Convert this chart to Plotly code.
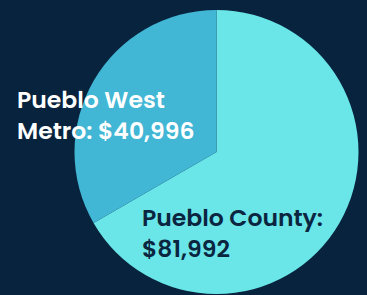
import plotly.graph_objects as go

labels = ["Pueblo County", "Pueblo West Metro"]
values = [81992, 40996]
colors = ["#6ae5e8", "#42b6d5"]
text_colors = ["#0a2540", "#ffffff"]
label_lines = [["Pueblo County:", "${:,}"], ["Pueblo West", "Metro: ${:,}"]]

W, H = 367, 295
bg = "#07233d"

fig = go.Figure(go.Pie(
    labels=labels, values=values, sort=False, direction="clockwise", rotation=0,
    marker=dict(colors=colors, line=dict(width=0)),
    textinfo="none", hoverinfo="label+value", showlegend=False,
    domain=dict(x=[(216.5 - 142) / W, (216.5 + 142) / W], y=[(143 - 142) / H, (143 + 142) / H]),
))

# pixel anchor (left, cap-top of first line)
positions = [(140, 208), (15, 90)]
for lab, val, tc, lines, (px, py) in zip(labels, values, text_colors, label_lines, positions):
    txt = "<br>".join(ln.format(val) for ln in lines)
    fig.add_annotation(
        x=px / W, y=1 - (py - 9) / H, xref="paper", yref="paper",
        xanchor="left", yanchor="top", align="left", showarrow=False,
        text=txt,
        font=dict(family="Poppins, Open Sans, sans-serif", size=23.5, color=tc, weight=600),
    )

fig.update_layout(
    width=W, height=H, margin=dict(l=0, r=0, t=0, b=0),
    paper_bgcolor=bg, plot_bgcolor=bg,
)
fig.write_html("out.html", config={"displayModeBar": False},
               post_script="document.body.style.margin='0';document.body.style.background='%s';" % bg)
